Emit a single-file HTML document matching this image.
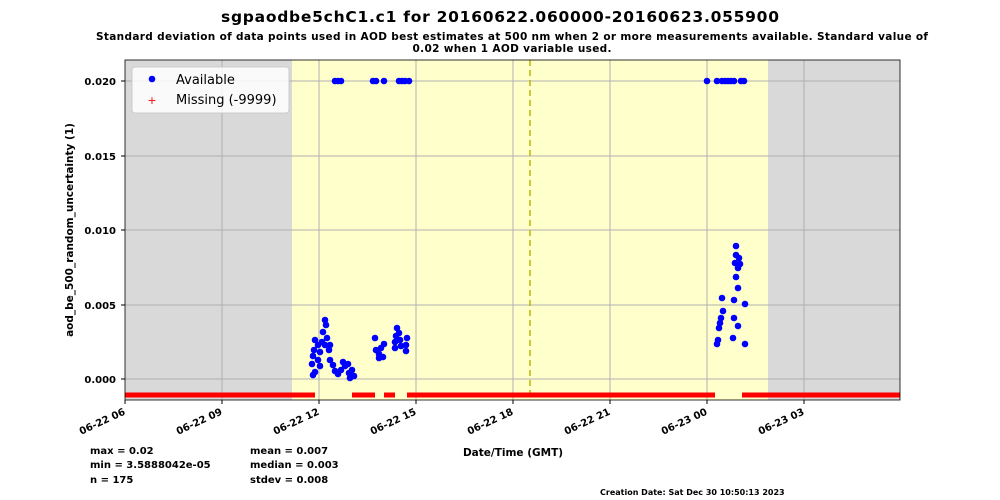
<!DOCTYPE html>
<html><head><style>body{margin:0;background:#fff}svg{display:block}text{font-family:"DejaVu Sans","Liberation Sans",sans-serif}</style></head><body>
<svg width="1000" height="500" xmlns="http://www.w3.org/2000/svg">
<rect width="1000" height="500" fill="#fff"/>
<text x="500" y="22" text-anchor="middle" font-size="15.5" font-weight="bold" textLength="558">sgpaodbe5chC1.c1 for 20160622.060000-20160623.055900</text>
<text x="512" y="40" text-anchor="middle" font-size="10.5" font-weight="bold" textLength="832">Standard deviation of data points used in AOD best estimates at 500 nm when 2 or more measurements available. Standard value of</text>
<text x="512" y="52" text-anchor="middle" font-size="10.5" font-weight="bold" textLength="199">0.02 when 1 AOD variable used.</text>
<rect x="125" y="60" width="775" height="340" fill="#d9d9d9"/>
<rect x="292" y="60" width="476" height="340" fill="#ffffcc"/>
<g stroke="#b0b0b0" stroke-width="1">
<line x1="222" y1="60" x2="222" y2="400"/><line x1="319" y1="60" x2="319" y2="400"/><line x1="416" y1="60" x2="416" y2="400"/><line x1="513" y1="60" x2="513" y2="400"/><line x1="610" y1="60" x2="610" y2="400"/><line x1="707" y1="60" x2="707" y2="400"/><line x1="804" y1="60" x2="804" y2="400"/>
<line x1="125" y1="81" x2="900" y2="81"/><line x1="125" y1="156" x2="900" y2="156"/><line x1="125" y1="230" x2="900" y2="230"/><line x1="125" y1="305" x2="900" y2="305"/><line x1="125" y1="379" x2="900" y2="379"/>
</g>
<line x1="530" y1="60" x2="530" y2="400" stroke="#b8b800" stroke-width="1.5" stroke-dasharray="6,4"/>
<g stroke="#ff0000" stroke-width="5">
<line x1="125" y1="395" x2="315" y2="395"/><line x1="352" y1="395" x2="375" y2="395"/><line x1="384" y1="395" x2="395" y2="395"/><line x1="407" y1="395" x2="715" y2="395"/><line x1="742" y1="395" x2="900" y2="395"/>
</g>
<g fill="#0000ff">
<circle cx="335" cy="81" r="3.3"/><circle cx="338" cy="81" r="3.3"/><circle cx="341" cy="81" r="3.3"/><circle cx="373" cy="81" r="3.3"/><circle cx="376" cy="81" r="3.3"/><circle cx="384" cy="81" r="3.3"/><circle cx="399" cy="81" r="3.3"/><circle cx="402" cy="81" r="3.3"/><circle cx="405" cy="81" r="3.3"/><circle cx="409" cy="81" r="3.3"/>
<circle cx="707" cy="81" r="3.3"/><circle cx="717" cy="81" r="3.3"/><circle cx="722" cy="81" r="3.3"/><circle cx="725" cy="81" r="3.3"/><circle cx="728" cy="81" r="3.3"/><circle cx="731" cy="81" r="3.3"/><circle cx="734" cy="81" r="3.3"/><circle cx="741" cy="81" r="3.3"/><circle cx="744" cy="81" r="3.3"/>
<circle cx="325" cy="320" r="3.3"/><circle cx="326" cy="325" r="3.3"/><circle cx="323" cy="332" r="3.3"/><circle cx="327" cy="338" r="3.3"/><circle cx="325" cy="345" r="3.3"/><circle cx="330" cy="345" r="3.3"/><circle cx="315" cy="340" r="3.3"/><circle cx="318" cy="345" r="3.3"/><circle cx="314" cy="350" r="3.3"/><circle cx="320" cy="352" r="3.3"/><circle cx="313" cy="356" r="3.3"/><circle cx="318" cy="360" r="3.3"/><circle cx="312" cy="364" r="3.3"/><circle cx="320" cy="366" r="3.3"/><circle cx="315" cy="372" r="3.3"/><circle cx="313" cy="375" r="3.3"/><circle cx="322" cy="342" r="3.3"/><circle cx="329" cy="350" r="3.3"/>
<circle cx="330" cy="360" r="3.3"/><circle cx="333" cy="365" r="3.3"/><circle cx="335" cy="371" r="3.3"/><circle cx="338" cy="374" r="3.3"/><circle cx="343" cy="362" r="3.3"/><circle cx="341" cy="370" r="3.3"/><circle cx="345" cy="366" r="3.3"/><circle cx="348" cy="364" r="3.3"/><circle cx="349" cy="373" r="3.3"/><circle cx="352" cy="370" r="3.3"/><circle cx="354" cy="376" r="3.3"/><circle cx="350" cy="378" r="3.3"/>
<circle cx="375" cy="338" r="3.3"/><circle cx="376" cy="350" r="3.3"/><circle cx="379" cy="354" r="3.3"/><circle cx="383" cy="357" r="3.3"/><circle cx="384" cy="344" r="3.3"/><circle cx="381" cy="348" r="3.3"/><circle cx="379" cy="358" r="3.3"/>
<circle cx="396" cy="336" r="3.3"/><circle cx="399" cy="333" r="3.3"/><circle cx="395" cy="342" r="3.3"/><circle cx="400" cy="340" r="3.3"/><circle cx="395" cy="348" r="3.3"/><circle cx="401" cy="346" r="3.3"/><circle cx="397" cy="328" r="3.3"/><circle cx="407" cy="338" r="3.3"/><circle cx="406" cy="345" r="3.3"/><circle cx="406" cy="351" r="3.3"/>
<circle cx="736" cy="246" r="3.3"/><circle cx="736" cy="255" r="3.3"/><circle cx="739" cy="258" r="3.3"/><circle cx="735" cy="263" r="3.3"/><circle cx="740" cy="264" r="3.3"/><circle cx="738" cy="268" r="3.3"/><circle cx="736" cy="277" r="3.3"/><circle cx="738" cy="288" r="3.3"/><circle cx="722" cy="298" r="3.3"/><circle cx="734" cy="300" r="3.3"/><circle cx="745" cy="304" r="3.3"/><circle cx="723" cy="311" r="3.3"/><circle cx="721" cy="318" r="3.3"/><circle cx="734" cy="318" r="3.3"/><circle cx="720" cy="323" r="3.3"/><circle cx="719" cy="328" r="3.3"/><circle cx="738" cy="326" r="3.3"/><circle cx="733" cy="338" r="3.3"/><circle cx="718" cy="340" r="3.3"/><circle cx="717" cy="344" r="3.3"/><circle cx="745" cy="344" r="3.3"/>
</g>
<rect x="125" y="60" width="775" height="340" fill="none" stroke="#000" stroke-width="0.8"/>
<g font-size="10" text-anchor="end" font-weight="bold"><text x="116" y="85">0.020</text><text x="116" y="160">0.015</text><text x="116" y="234">0.010</text><text x="116" y="309">0.005</text><text x="116" y="383">0.000</text></g>
<g stroke="#000"><line x1="121" y1="81" x2="125" y2="81"/><line x1="121" y1="156" x2="125" y2="156"/><line x1="121" y1="230" x2="125" y2="230"/><line x1="121" y1="305" x2="125" y2="305"/><line x1="121" y1="379" x2="125" y2="379"/>
<line x1="125" y1="400" x2="125" y2="404"/><line x1="222" y1="400" x2="222" y2="404"/><line x1="319" y1="400" x2="319" y2="404"/><line x1="416" y1="400" x2="416" y2="404"/><line x1="513" y1="400" x2="513" y2="404"/><line x1="610" y1="400" x2="610" y2="404"/><line x1="707" y1="400" x2="707" y2="404"/><line x1="804" y1="400" x2="804" y2="404"/></g>
<g font-size="10" text-anchor="end" font-weight="bold">
<text transform="translate(126,414) rotate(-25)">06-22 06</text><text transform="translate(223,414) rotate(-25)">06-22 09</text><text transform="translate(320,414) rotate(-25)">06-22 12</text><text transform="translate(417,414) rotate(-25)">06-22 15</text><text transform="translate(514,414) rotate(-25)">06-22 18</text><text transform="translate(611,414) rotate(-25)">06-22 21</text><text transform="translate(708,414) rotate(-25)">06-23 00</text><text transform="translate(805,414) rotate(-25)">06-23 03</text>
</g>
<text transform="translate(73,230) rotate(-90)" text-anchor="middle" font-size="10.5" font-weight="bold">aod_be_500_random_uncertainty (1)</text>
<text x="513" y="456" text-anchor="middle" font-size="10.5" font-weight="bold">Date/Time (GMT)</text>
<rect x="132" y="67" width="157" height="46" fill="#fff" fill-opacity="0.85" stroke="#ccc" rx="3"/>
<circle cx="152" cy="79" r="3.3" fill="#0000ff"/><text x="176" y="84" font-size="13">Available</text>
<text x="152" y="104" text-anchor="middle" font-size="11" fill="#ff0000">+</text><text x="176" y="104" font-size="13">Missing (-9999)</text>
<g font-size="10" font-weight="bold"><text x="90" y="454">max = 0.02</text><text x="90" y="468">min = 3.5888042e-05</text><text x="90" y="483">n = 175</text><text x="250" y="454">mean = 0.007</text><text x="250" y="468">median = 0.003</text><text x="250" y="483">stdev = 0.008</text></g>
<text x="600" y="495" font-size="8" font-weight="bold">Creation Date: Sat Dec 30 10:50:13 2023</text>
</svg></body></html>
